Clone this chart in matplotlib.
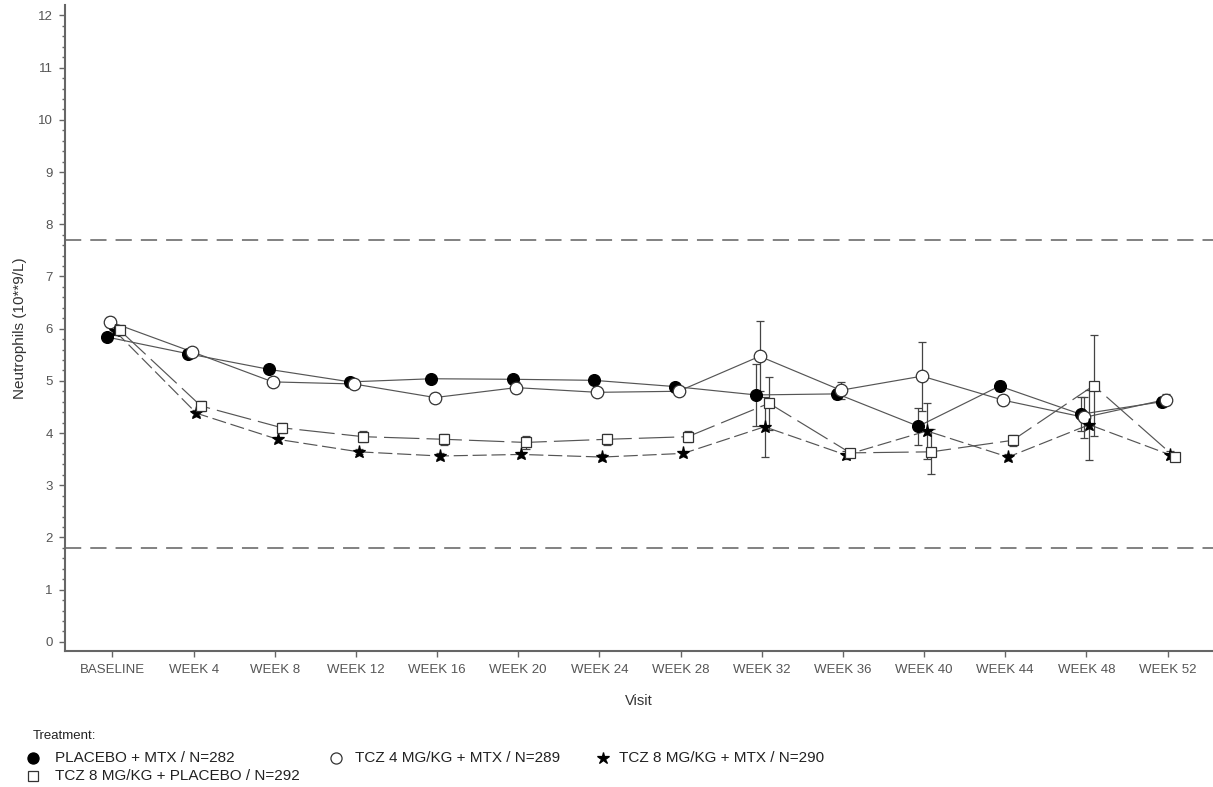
import matplotlib
matplotlib.use("Agg")
import matplotlib.pyplot as plt
import numpy as np
from matplotlib.lines import Line2D

visits = ['BASELINE', 'WEEK 4', 'WEEK 8', 'WEEK 12', 'WEEK 16', 'WEEK 20', 'WEEK 24',
          'WEEK 28', 'WEEK 32', 'WEEK 36', 'WEEK 40', 'WEEK 44', 'WEEK 48', 'WEEK 52']

placebo = [5.84, 5.52, 5.22, 4.98, 5.04, 5.03, 5.01, 4.89, 4.73, 4.75, 4.13, 4.90, 4.36, 4.60]
placebo_err = [0.08, 0.06, 0.06, 0.06, 0.06, 0.06, 0.06, 0.07, 0.60, 0.10, 0.35, 0.10, 0.33, 0.10]

tcz4 = [6.13, 5.56, 4.98, 4.94, 4.68, 4.87, 4.78, 4.80, 5.47, 4.82, 5.09, 4.63, 4.30, 4.64]
tcz4_err = [0.10, 0.07, 0.08, 0.07, 0.08, 0.10, 0.07, 0.07, 0.67, 0.16, 0.66, 0.08, 0.40, 0.10]

tcz8 = [5.95, 4.38, 3.88, 3.64, 3.56, 3.59, 3.54, 3.61, 4.12, 3.58, 4.04, 3.54, 4.16, 3.58]
tcz8_err = [0.08, 0.06, 0.05, 0.05, 0.05, 0.05, 0.05, 0.05, 0.58, 0.07, 0.53, 0.06, 0.67, 0.07]

tcz8pbo = [5.97, 4.52, 4.10, 3.93, 3.88, 3.82, 3.88, 3.93, 4.57, 3.62, 3.64, 3.86, 4.91, 3.54]
tcz8pbo_err = [0.10, 0.10, 0.10, 0.10, 0.10, 0.12, 0.10, 0.10, 0.51, 0.08, 0.43, 0.10, 0.97, 0.08]

labels = ['PLACEBO + MTX / N=282', 'TCZ 4 MG/KG + MTX / N=289',
          'TCZ 8 MG/KG + MTX / N=290', 'TCZ 8 MG/KG + PLACEBO / N=292']

ref_low, ref_high = 1.8, 7.7

plt.rcParams['font.family'] = ['Liberation Sans', 'DejaVu Sans']

fig = plt.figure(figsize=(12.13, 7.87), dpi=100)
ax = fig.add_axes([0.0532, 0.1732, 0.9468, 0.8204])

x = np.arange(len(visits))
series = [
    (placebo, placebo_err, -0.07, dict(marker='o', mfc='black', mec='black', ms=8.5), '-'),
    (tcz4, tcz4_err, -0.025, dict(marker='o', mfc='white', mec='#333333', ms=9), '-'),
    (tcz8, tcz8_err, 0.035, dict(marker='*', mfc='black', mec='black', ms=9.5), (0, (12, 4))),
    (tcz8pbo, tcz8pbo_err, 0.09, dict(marker='s', mfc='white', mec='#333333', ms=7), (0, (30, 6))),
]

for vals, errs, off, mstyle, ls in series:
    xs = x + off
    ax.plot(xs, vals, color='#555555', lw=0.85, ls=ls, zorder=2)
    ax.errorbar(xs, vals, yerr=errs, fmt='none', ecolor='#444444', elinewidth=0.9,
                capsize=3, capthick=0.9, zorder=3)
    ax.plot(xs, vals, ls='none', zorder=4, mew=0.9, **mstyle)

ax.axhline(ref_high, color='#777777', lw=1.3, ls=(0, (9, 5)), zorder=1)
ax.axhline(ref_low, color='#777777', lw=1.3, ls=(0, (9, 5)), zorder=1)

ax.set_xlim(-0.59, 13.56)
ax.set_ylim(-0.17, 12.2)
ax.set_xticks(x)
ax.set_xticklabels(visits)
ax.set_yticks(np.arange(0, 13, 1))
ax.set_yticks(np.arange(0, 12.01, 0.2), minor=True)

for s in ['top', 'right']:
    ax.spines[s].set_visible(False)
for s in ['left', 'bottom']:
    ax.spines[s].set_color('#666666')
    ax.spines[s].set_linewidth(1.5)

ax.tick_params(axis='both', which='major', length=4.5, width=1, color='#666666',
               labelsize=9.5, labelcolor='#555555', pad=4)
ax.tick_params(axis='y', which='minor', length=2.5, width=1, color='#666666')
ax.tick_params(axis='x', which='major', length=4.5, pad=5)

ax.set_xlabel('Visit', fontsize=10.5, color='#333333', labelpad=13)
ax.set_ylabel('Neutrophils (10**9/L)', fontsize=11, color='#333333', labelpad=8)

# legend
fig.text(33 / 1213, 1 - 736 / 787, 'Treatment:', fontsize=9.5, color='#222222', va='center')
leg_items = [
    (33, 758, 55, dict(marker='o', mfc='black', mec='black', ms=8)),
    (336, 758, 355, dict(marker='o', mfc='white', mec='#333333', ms=8)),
    (603, 758, 619, dict(marker='*', mfc='black', mec='black', ms=9)),
    (33, 776, 55, dict(marker='s', mfc='white', mec='#333333', ms=7)),
]
for (px, py, tx, ms), lab in zip(leg_items, labels):
    fig.add_artist(Line2D([px / 1213], [1 - py / 787], transform=fig.transFigure,
                          ls='none', mew=0.9, **ms))
    fig.text(tx / 1213, 1 - py / 787, lab, fontsize=11, color='#222222', va='center')

fig.savefig('out.png', dpi=100)
